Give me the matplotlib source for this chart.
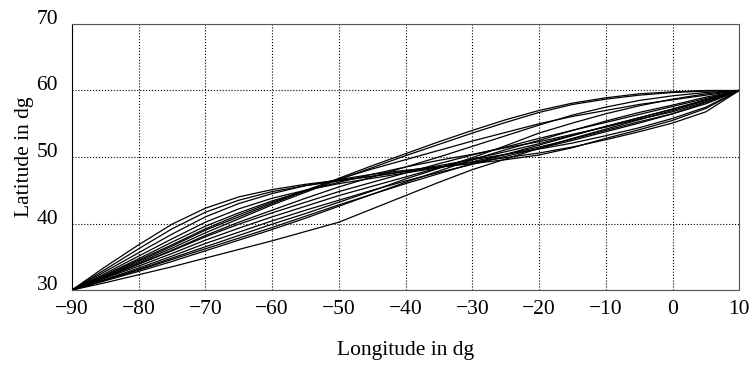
import matplotlib
matplotlib.use("Agg")
import matplotlib.pyplot as plt

plt.rcParams['font.family'] = ['Liberation Serif', 'DejaVu Serif']

# longitude samples (dg)
lon = [-90, -85, -80, -75, -70, -65, -60, -55, -50, -45, -40,
       -35, -30, -25, -20, -15, -10, -5, 0, 5, 10]

# latitude of each route at the sampled longitudes (dg)
routes = [
    [30, 33.5, 36.8, 39.9, 42.3, 44.0, 45.1, 45.9, 46.5, 47.1, 47.8, 48.5, 49.2, 49.9, 50.6, 51.5, 52.6, 53.8, 55.1, 56.8, 60],
    [30, 33.1, 36.2, 39.2, 41.7, 43.5, 44.8, 45.7, 46.4, 47.1, 47.9, 48.7, 49.6, 50.4, 51.2, 52.1, 53.2, 54.4, 55.8, 57.5, 60],
    [30, 32.8, 35.6, 38.4, 41.0, 43.0, 44.5, 45.7, 46.6, 47.4, 48.0, 48.5, 49.0, 49.6, 50.3, 51.4, 52.8, 54.1, 55.5, 57.3, 60],
    [30, 32.5, 35.1, 37.7, 40.2, 42.2, 43.8, 45.0, 46.0, 46.8, 47.6, 48.4, 49.3, 50.4, 51.5, 52.7, 54.0, 55.3, 56.5, 58.0, 60],
    [30, 32.3, 34.7, 37.2, 39.6, 41.6, 43.4, 44.9, 46.2, 47.4, 48.5, 49.5, 50.4, 51.4, 52.3, 53.4, 54.5, 55.7, 56.8, 58.3, 60],
    [30, 32.1, 34.3, 36.6, 39.0, 41.0, 43.0, 44.9, 46.8, 48.7, 50.5, 52.3, 54.0, 55.6, 57.0, 58.1, 58.9, 59.5, 59.8, 60.0, 60],
    [30, 32.0, 34.1, 36.3, 38.6, 40.7, 42.8, 44.7, 46.6, 48.4, 50.2, 51.9, 53.6, 55.2, 56.7, 57.9, 58.7, 59.3, 59.7, 59.9, 60],
    [30, 32.2, 34.5, 36.8, 39.2, 41.3, 43.2, 45.0, 46.7, 48.2, 49.6, 51.0, 52.4, 53.7, 55.0, 56.1, 57.0, 57.9, 58.6, 59.3, 60],
    [30, 31.9, 33.9, 36.0, 38.2, 40.2, 42.0, 43.8, 45.5, 47.0, 48.5, 50.0, 51.6, 53.2, 54.8, 56.3, 57.5, 58.5, 59.2, 59.7, 60],
    [30, 31.9, 33.9, 35.9, 38.0, 39.9, 41.6, 43.2, 44.8, 46.2, 47.6, 49.0, 50.3, 51.5, 52.8, 54.0, 55.2, 56.4, 57.6, 58.8, 60],
    [30, 31.8, 33.6, 35.5, 37.5, 39.3, 41.0, 42.6, 44.2, 45.6, 47.0, 48.4, 49.7, 50.8, 52.0, 53.3, 54.6, 55.9, 57.2, 58.6, 60],
    [30, 31.6, 33.3, 35.1, 37.0, 38.7, 40.4, 42.0, 43.5, 45.0, 46.4, 47.7, 48.9, 50.1, 51.3, 52.5, 53.8, 55.1, 56.5, 58.2, 60],
    [30, 31.5, 33.0, 34.6, 36.2, 37.8, 39.4, 41.1, 42.8, 44.4, 46.0, 47.5, 49.0, 50.4, 51.8, 53.2, 54.6, 55.9, 57.2, 58.6, 60],
    [30, 31.4, 32.8, 34.3, 35.9, 37.5, 39.1, 40.8, 42.6, 44.4, 46.2, 47.9, 49.6, 51.1, 52.5, 54.0, 55.4, 56.7, 57.8, 59.0, 60],
    [30, 31.1, 32.3, 33.5, 34.8, 36.1, 37.4, 38.8, 40.2, 42.2, 44.2, 46.2, 48.1, 49.7, 51.3, 52.8, 54.2, 55.6, 57.0, 58.5, 60],
    [30, 31.5, 33.1, 34.8, 36.5, 38.2, 39.9, 41.5, 43.2, 44.9, 46.7, 48.3, 49.9, 51.7, 53.6, 55.1, 56.5, 57.7, 58.7, 59.5, 60],
]

fig = plt.figure(figsize=(7.49, 3.69), dpi=100)
ax = fig.add_axes([0.096, 0.214, 0.891, 0.721])

for lat in routes:
    ax.plot(lon, lat, color='black', linewidth=0.9)

ax.set_xlim(-90, 10)
ax.set_ylim(30, 70)
ax.set_xticks(range(-90, 11, 10))
ax.set_yticks(range(30, 71, 10))
ax.tick_params(length=0, labelsize=15.5)
ax.tick_params(axis='x', pad=7)
ax.tick_params(axis='y', pad=10)
for t in ax.get_yticklabels():
    t.set_verticalalignment('baseline')
ax.grid(True, linestyle=':', color='black', linewidth=0.8)
for s in ax.spines.values():
    s.set_color('#555555')
ax.spines['left'].set_color('black')
ax.set_xlabel("Longitude in dg", fontsize=15.5, labelpad=16)
ax.set_ylabel("Latitude in dg", fontsize=15.5, labelpad=2)

fig.savefig("out.png", dpi=100)
